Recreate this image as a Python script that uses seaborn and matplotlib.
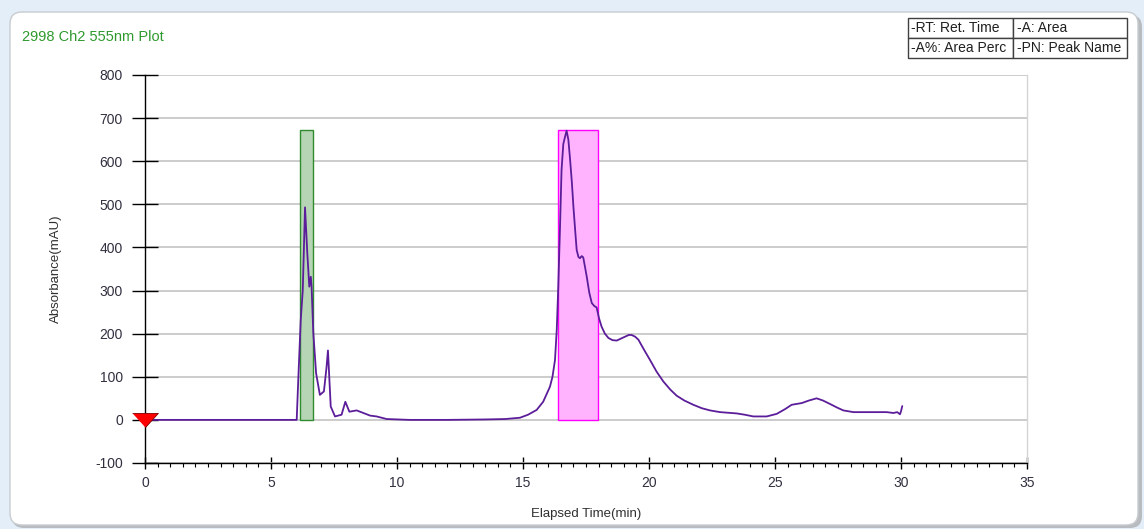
import matplotlib
matplotlib.use("Agg")
import matplotlib.pyplot as plt
import numpy as np
import seaborn as sns
from matplotlib.patches import FancyBboxPatch

# chromatogram trace (min, mAU)
time_min = [0.0, 6.02, 6.08, 6.18, 6.26, 6.35, 6.44, 6.52, 6.58, 6.61, 6.68,
            6.79, 6.94, 7.10, 7.20, 7.26, 7.32, 7.37, 7.54, 7.80, 7.95, 8.11,
            8.40, 8.93, 9.19, 9.59, 10.5, 12.0, 13.5, 14.3, 14.88, 15.2, 15.54,
            15.8, 16.07, 16.17, 16.27, 16.34, 16.40, 16.47, 16.53, 16.60, 16.67,
            16.73, 16.80, 16.87, 16.94, 17.00, 17.07, 17.13, 17.20, 17.26, 17.33,
            17.39, 17.46, 17.53, 17.63, 17.73, 17.83, 17.92, 18.02, 18.12, 18.25,
            18.39, 18.55, 18.72, 18.90, 19.05, 19.20, 19.31, 19.45, 19.58, 19.80,
            20.04, 20.30, 20.57, 20.85, 21.10, 21.40, 21.76, 22.10, 22.42, 22.82,
            23.48, 23.80, 24.14, 24.67, 25.07, 25.40, 25.66, 26.06, 26.35, 26.65,
            26.90, 27.18, 27.45, 27.71, 28.11, 29.43, 29.70, 29.85, 29.96, 30.00,
            30.05]
absorb_mau = [0, 0, 90, 232, 300, 493, 387, 309, 332, 309, 201,
              108, 58, 66, 120, 161, 90, 31, 8, 12, 42, 19,
              22, 10, 8, 2, 0, 0, 1, 2, 5, 12, 23,
              42, 77, 100, 139, 210, 309, 450, 580, 640, 657,
              671, 650, 603, 550, 495, 440, 394, 378, 375, 380,
              377, 355, 332, 295, 271, 264, 261, 235, 216, 200,
              190, 185, 184, 189, 193, 197, 197, 193, 186, 163,
              139, 112, 89, 70, 56, 45, 35, 27, 22, 18,
              15, 12, 8, 8, 14, 25, 35, 39, 45, 50,
              45, 37, 29, 22, 18, 18, 16, 18, 13, 20,
              32]

# integration windows
peak_start = [6.15, 16.39]
peak_end = [6.67, 17.98]
peak_top = [673, 673]
peak_face = ["#b5d5b5", "#ffb3ff"]
peak_edge = ["#2e8b2e", "#ff00ff"]

# injection marker
inject_t = [0.0]
inject_y = [0.0]

x_ticks = [0, 5, 10, 15, 20, 25, 30, 35]
y_ticks = [-100, 0, 100, 200, 300, 400, 500, 600, 700, 800]

legend_cells = [["-RT: Ret. Time", "-A: Area"],
                ["-A%: Area Perc", "-PN: Peak Name"]]

sns.set_theme(style="white")
plt.rcParams["font.family"] = ["Liberation Sans", "DejaVu Sans"]
plt.rcParams["axes.unicode_minus"] = False

W, H = 1144, 529
fig = plt.figure(figsize=(W / 100, H / 100), dpi=100)
fig.patch.set_facecolor("#e4eef8")

# rounded white panel with a soft grey border
shadow = FancyBboxPatch((12 / 100, 1 / 100), 1130 / 100, 513 / 100,
                        boxstyle="round,pad=0,rounding_size=0.12",
                        transform=fig.dpi_scale_trans, facecolor="#b8bcc0",
                        edgecolor="none", zorder=-3)
panel = FancyBboxPatch((10 / 100, 4 / 100), 1128 / 100, 513 / 100,
                       boxstyle="round,pad=0,rounding_size=0.12",
                       transform=fig.dpi_scale_trans, facecolor="white",
                       edgecolor="#c8ccd0", linewidth=1.0, zorder=-2)
fig.patches.extend([shadow, panel])

ax = fig.add_axes([145 / W, (H - 463) / H, 882 / W, 388 / H])
ax.set_facecolor("none")
ax.set_zorder(2)

for s, e, top, fc, ec in zip(peak_start, peak_end, peak_top, peak_face, peak_edge):
    ax.bar(s, top, width=e - s, align="edge", color=fc, edgecolor=ec,
           linewidth=1.0, zorder=2)

sns.lineplot(x=time_min, y=absorb_mau, ax=ax, color="#5b1d99", linewidth=1.3,
             zorder=3, estimator=None, sort=False)

tri = [(-1, 0.55), (1, 0.55), (0, -0.55)]
ax.plot(inject_t, inject_y, linestyle="none", marker=tri, markersize=18.5,
        markerfacecolor="#ff0000", markeredgecolor="#800000",
        markeredgewidth=0.6, clip_on=False, zorder=5)

ax.set_xlim(0, 35)
ax.set_ylim(-100, 800)
ax.set_xticks(x_ticks)
ax.set_xticks(np.arange(0, 35.01, 0.5), minor=True)
ax.set_yticks(y_ticks)
ax.yaxis.grid(True, color="#c4c4c4", linewidth=1.2, zorder=1)
ax.set_axisbelow(True)

ax.spines["top"].set_visible(False)
ax.spines["right"].set_color("#d4d4d4")
ax.spines["right"].set_linewidth(1.0)
ax.spines["left"].set_color("black")
ax.spines["bottom"].set_color("black")
ax.spines["left"].set_linewidth(1.0)
ax.spines["bottom"].set_linewidth(1.0)

ax.tick_params(axis="y", which="major", direction="inout", length=18.7,
               width=1.0, color="black", pad=6.5, labelsize=10,
               labelcolor="#303040", left=True)
ax.tick_params(axis="x", which="major", direction="inout", length=8.6,
               width=1.0, color="black", pad=5, labelsize=10,
               labelcolor="#303040", bottom=True)
ax.tick_params(axis="x", which="minor", direction="out", length=3,
               width=0.8, color="black", bottom=True)

ax.set_xlabel("Elapsed Time(min)", fontsize=9.5, color="#303030", labelpad=13)
ax.set_ylabel("Absorbance(mAU)", fontsize=9.5, color="#303030", labelpad=24)

fig.text(22 / W, 1 - 37 / H, "2998 Ch2 555nm Plot", color="#2e9a2e",
         fontsize=10.5, ha="left", va="center")

lax = fig.add_axes([908 / W, (H - 58) / H, 219 / W, 40 / H])
lax.set_axis_off()
lax.set_zorder(2)
tbl = lax.table(cellText=legend_cells, colWidths=[0.48, 0.52],
                cellLoc="left", bbox=[0, 0, 1, 1])
tbl.auto_set_font_size(False)
tbl.set_fontsize(10)
for cell in tbl.get_celld().values():
    cell.set_edgecolor("#404040")
    cell.set_linewidth(1.0)
    cell.PAD = 0.03
    cell.get_text().set_color("#202020")

fig.savefig("out.png", dpi=100, facecolor=fig.get_facecolor())
